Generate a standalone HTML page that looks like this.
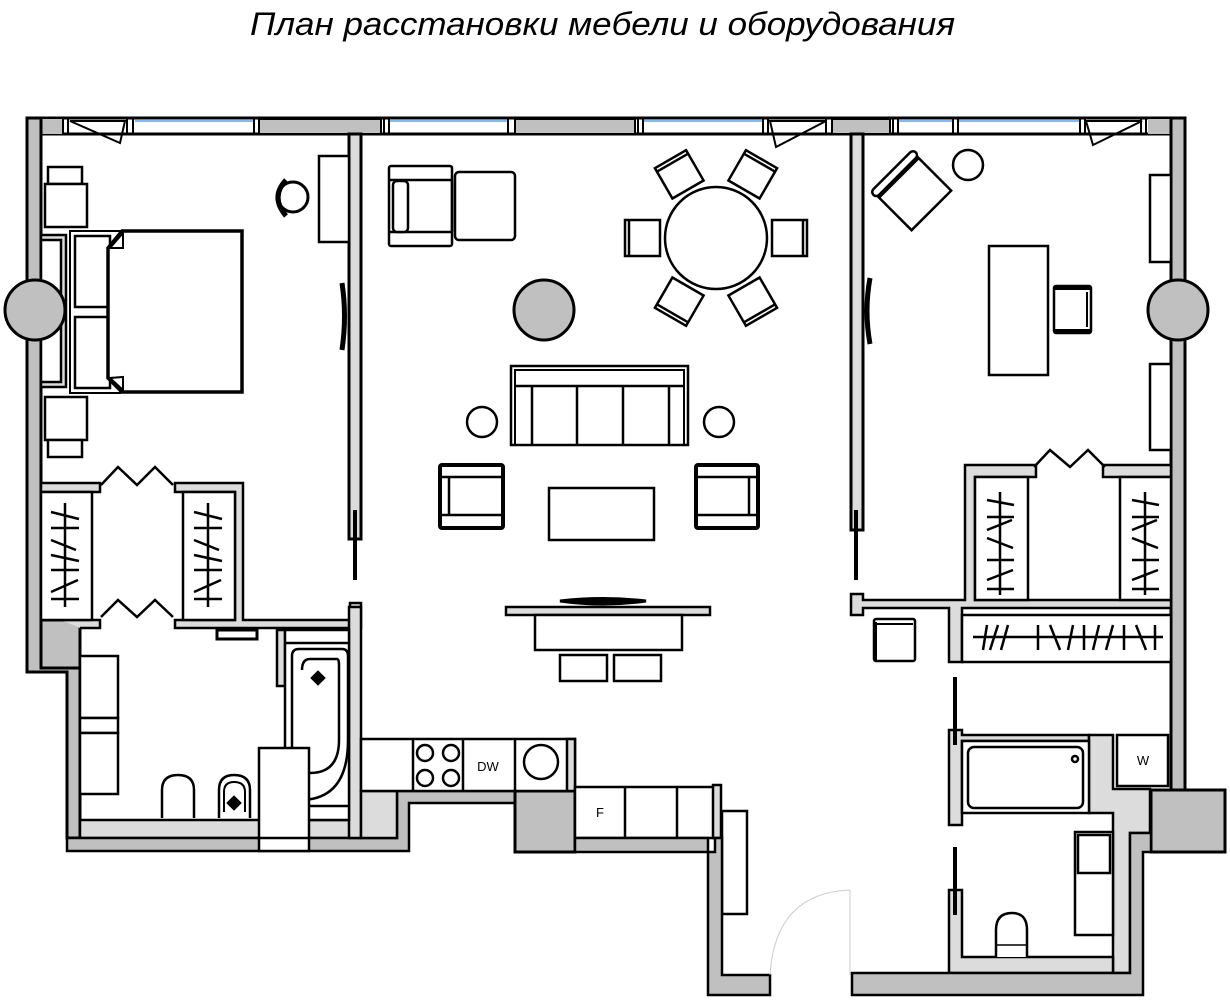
<!DOCTYPE html>
<html><head><meta charset="utf-8"><style>
html,body{margin:0;padding:0;background:#fff;}
svg{display:block;}
</style></head><body>
<svg width="1230" height="1000" viewBox="0 0 1230 1000" xmlns="http://www.w3.org/2000/svg" font-family="Liberation Sans, sans-serif">
<text x="250" y="35" font-size="32" font-style="italic" textLength="705" lengthAdjust="spacingAndGlyphs" fill="#000">План расстановки мебели и оборудования</text>

<g stroke="#000" stroke-width="3" stroke-linejoin="miter">
<!-- top wall -->
<rect x="27" y="118" width="1158" height="16" fill="#fff"/>
<rect x="41" y="119" width="22" height="15" fill="#c0c0c0" stroke="none"/>
<rect x="259" y="119" width="122" height="15" fill="#c0c0c0" stroke-width="2"/>
<rect x="515" y="119" width="120" height="15" fill="#c0c0c0" stroke-width="2"/>
<rect x="832" y="119" width="58" height="15" fill="#c0c0c0" stroke-width="2"/>
<rect x="1148" y="119" width="22" height="15" fill="#c0c0c0" stroke="none"/>
<g stroke-width="2">
<line x1="63" y1="118" x2="63" y2="134"/><line x1="68" y1="118" x2="68" y2="134"/>
<line x1="127" y1="118" x2="127" y2="134"/><line x1="133" y1="118" x2="133" y2="134"/>
<line x1="254" y1="118" x2="254" y2="134"/><line x1="384" y1="118" x2="384" y2="134"/><line x1="389" y1="118" x2="389" y2="134"/>
<line x1="508" y1="118" x2="508" y2="134"/><line x1="638" y1="118" x2="638" y2="134"/><line x1="643" y1="118" x2="643" y2="134"/>
<line x1="763" y1="118" x2="763" y2="134"/><line x1="768" y1="118" x2="768" y2="134"/>
<line x1="826" y1="118" x2="826" y2="134"/><line x1="893" y1="118" x2="893" y2="134"/><line x1="898" y1="118" x2="898" y2="134"/>
<line x1="953" y1="118" x2="953" y2="134"/><line x1="958" y1="118" x2="958" y2="134"/>
<line x1="1080" y1="118" x2="1080" y2="134"/><line x1="1085" y1="118" x2="1085" y2="134"/>
<line x1="1141" y1="118" x2="1141" y2="134"/><line x1="1146" y1="118" x2="1146" y2="134"/>
</g>
<g stroke="#4aa8ff" stroke-width="1.5">
<line x1="135" y1="121" x2="253" y2="121"/><line x1="390" y1="121" x2="507" y2="121"/>
<line x1="644" y1="121" x2="762" y2="121"/><line x1="899" y1="121" x2="952" y2="121"/><line x1="959" y1="121" x2="1079" y2="121"/>
</g>
<g stroke-width="2" fill="none">
<path d="M70 121 L125 121 L120 143 Z"/>
<path d="M770 121 L826 121 L776 147 Z"/>
<path d="M1086 121 L1142 121 L1093 145 Z"/>
</g>

<path d="M27 118 L41 118 L41 620 L80 620 L80 838 L67 838 L67 672 L27 672 Z" fill="#c0c0c0"/>
<rect x="41" y="620" width="39" height="48" fill="#c0c0c0"/>
<rect x="1171" y="118" width="14" height="672" fill="#c0c0c0"/>
<rect x="1151" y="790" width="74" height="62" fill="#c0c0c0"/>

<rect x="349" y="134" width="12" height="405" fill="#dcdcdc"/>
<rect x="851" y="134" width="12" height="396" fill="#dcdcdc"/>
<line x1="355" y1="510" x2="355" y2="580" stroke-width="4"/>
<line x1="856" y1="510" x2="856" y2="580" stroke-width="4"/>
<path d="M342 283 Q347 316 342 350" stroke-width="5" fill="none"/>
<path d="M870 278 Q864 311 870 344" stroke-width="5" fill="none"/>

<g stroke-width="2.5" fill="#fff">
<rect x="48" y="167" width="34" height="17"/><rect x="45" y="184" width="42" height="43"/>
<rect x="45" y="397" width="42" height="43"/><rect x="48" y="440" width="34" height="17"/>
<rect x="41" y="235" width="25" height="152" fill="#dcdcdc"/><rect x="41" y="240" width="20" height="142"/>
<rect x="70" y="231" width="50" height="162" stroke-width="2"/>
<rect x="75" y="236" width="35" height="71"/><rect x="75" y="317" width="35" height="71"/>
<path d="M108 248 L108 378 L122 392 L242 392 L242 231 L122 231 Z" stroke-width="3.5"/>
<path d="M110 248 L123 233 L123 248 Z M110 378 L123 390 L123 377 Z" stroke-width="2"/>
<rect x="319" y="156" width="30" height="86"/>
</g>
<circle cx="35" cy="310" r="30" fill="#c0c0c0" stroke-width="3"/>
<circle cx="293" cy="197" r="15" fill="none" stroke-width="3"/>
<path d="M286 180 Q270 197 286 216" stroke-width="5" fill="none"/>

<path d="M41 483 L100 483 L100 492 L41 492 Z M175 483 L243 483 L243 620 L350 620 L350 603 L361 603 L361 628 L175 628 L175 620 L235 620 L235 492 L175 492 Z" fill="#dcdcdc" stroke-width="2.5"/>
<path d="M61 620 L100 620 L100 628 L80 628" fill="#dcdcdc" stroke-width="2.5"/>
<rect x="41" y="492" width="51" height="128" fill="#fff" stroke-width="2.5"/>
<rect x="183" y="492" width="52" height="128" fill="#fff" stroke-width="2.5"/>
<path d="M101 485 L118 467 L137 485 L155 467 L173 485" fill="none" stroke-width="2.5"/>
<path d="M101 617 L118 600 L137 617 L155 600 L173 617" fill="none" stroke-width="2.5"/>
<g stroke-width="2.5">
<line x1="65" y1="503" x2="65" y2="607"/><line x1="51" y1="512" x2="79" y2="519"/><line x1="51" y1="528" x2="79" y2="528"/><line x1="51" y1="540" x2="76" y2="550"/><line x1="51" y1="555" x2="79" y2="561"/><line x1="51" y1="570" x2="79" y2="570"/><line x1="51" y1="592" x2="78" y2="580"/><line x1="51" y1="599" x2="79" y2="599"/>
<line x1="208" y1="503" x2="208" y2="607"/><line x1="194" y1="512" x2="222" y2="519"/><line x1="194" y1="528" x2="222" y2="528"/><line x1="194" y1="540" x2="219" y2="550"/><line x1="194" y1="555" x2="222" y2="561"/><line x1="194" y1="570" x2="222" y2="570"/><line x1="194" y1="592" x2="221" y2="580"/><line x1="194" y1="599" x2="222" y2="599"/>
</g>

<rect x="217" y="630" width="40" height="9" fill="#fff" stroke-width="3"/>
<rect x="277" y="630" width="8" height="56" fill="#dcdcdc" stroke-width="2.5"/>
<path d="M80 820 L361 820 L361 838 L80 838 Z" fill="#dcdcdc" stroke-width="2.5"/>
<path d="M67 838 L397 838 L397 791 L575 791 L575 852 L515 852 L515 803 L409 803 L409 851 L67 851 Z" fill="#c0c0c0" stroke-width="2.5"/>
<rect x="515" y="791" width="60" height="61" fill="#c0c0c0"/>
<rect x="349" y="607" width="12" height="231" fill="#dcdcdc" stroke-width="2.5"/>
<rect x="361" y="791" width="36" height="47" fill="#dcdcdc" stroke-width="2.5"/>
<g fill="#fff" stroke-width="2.5">
<rect x="285" y="630" width="64" height="190"/>
<line x1="285" y1="643" x2="349" y2="643"/><line x1="285" y1="806" x2="349" y2="806"/>
<path d="M292 790 L292 656 Q292 649 299 649 L342 649 Q348 649 348 656 L348 740 Q348 800 300 800"/>
<path d="M302 670 Q302 659 310 659 L337 659 Q339 659 339 665 L339 740 Q339 773 310 773"/>
<rect x="80" y="656" width="38" height="62"/><rect x="80" y="718" width="38" height="15"/><rect x="80" y="733" width="38" height="61"/>
<rect x="259" y="748" width="50" height="103"/><line x1="259" y1="838" x2="309" y2="838"/>
<path d="M162 818 L162 790 Q162 775 178 775 Q194 775 194 790 L194 818"/>
<path d="M219 818 L219 790 Q219 775 234 775 Q250 775 250 790 L250 818"/>
<path d="M224 812 L224 792 Q224 782 234 782 Q245 782 245 792 L245 812" fill="none" stroke-width="2"/>
</g>
<rect x="230" y="799" width="8" height="8" transform="rotate(45 234 803)" fill="#000"/>
<rect x="314" y="674" width="8" height="8" transform="rotate(45 318 678)" fill="#000"/>

<g fill="#fff" stroke-width="2.5">
<rect x="361" y="739" width="214" height="52"/>
<line x1="413" y1="739" x2="413" y2="791"/><line x1="463" y1="739" x2="463" y2="791"/><line x1="515" y1="739" x2="515" y2="791"/>
<rect x="567" y="739" width="8" height="52" fill="#dcdcdc"/>
<circle cx="425" cy="753" r="8"/><circle cx="451" cy="753" r="8"/><circle cx="425" cy="778" r="8"/><circle cx="451" cy="778" r="8"/>
<circle cx="541" cy="762" r="17"/>
<rect x="575" y="787" width="140" height="51"/>
<line x1="625" y1="787" x2="625" y2="838"/><line x1="677" y1="787" x2="677" y2="838"/>
<rect x="713" y="785" width="8" height="53" fill="#dcdcdc"/>
<rect x="722" y="811" width="25" height="103"/>
</g>
<text x="488" y="771" font-size="13" text-anchor="middle" stroke="none" fill="#000">DW</text>
<text x="600" y="817" font-size="13" text-anchor="middle" stroke="none" fill="#000">F</text>
<path d="M575 838 L708 838 L708 995 L770 995 L770 975 L722 975 L722 838 L715 838 L715 852 L575 852 Z" fill="#c0c0c0" stroke-width="2.5"/>
<path d="M850 890 L850 975 M770 975 Q775 893 850 890" stroke="#ccc" stroke-width="1" fill="none"/>

<g fill="#fff" stroke-width="2.5">
<rect x="389" y="166" width="63" height="80" rx="2"/>
<line x1="389" y1="180" x2="452" y2="180"/><line x1="389" y1="232" x2="452" y2="232"/><line x1="452" y1="180" x2="452" y2="232"/>
<rect x="393" y="181" width="15" height="51" rx="4"/>
<rect x="455" y="172" width="60" height="68" rx="4"/>
<circle cx="716" cy="238" r="51"/>
<rect x="511" y="366" width="177" height="79"/>
<rect x="515" y="370" width="169" height="75" fill="none" stroke-width="2"/>
<line x1="515" y1="386" x2="684" y2="386"/>
<line x1="532" y1="386" x2="532" y2="445"/><line x1="577" y1="386" x2="577" y2="445"/><line x1="623" y1="386" x2="623" y2="445"/><line x1="669" y1="386" x2="669" y2="445"/>
<circle cx="482" cy="422" r="15"/><circle cx="719" cy="422" r="15"/>
<rect x="440" y="465" width="63" height="63" rx="2" stroke-width="4"/>
<line x1="442" y1="477" x2="501" y2="477"/><line x1="442" y1="515" x2="501" y2="515"/><line x1="449" y1="477" x2="449" y2="515"/>
<rect x="696" y="465" width="62" height="63" rx="2" stroke-width="4"/>
<line x1="698" y1="477" x2="756" y2="477"/><line x1="698" y1="515" x2="756" y2="515"/><line x1="749" y1="477" x2="749" y2="515"/>
<rect x="549" y="488" width="105" height="52"/>
<rect x="506" y="607" width="204" height="8" fill="#dcdcdc"/>
<rect x="535" y="615" width="147" height="35"/>
<rect x="560" y="655" width="47" height="26"/><rect x="614" y="655" width="47" height="26"/>
</g>
<path d="M560 601 Q603 596 646 601 Q603 607 560 601 Z" fill="#000" stroke-width="3"/>
<circle cx="544" cy="310" r="30" fill="#c0c0c0" stroke-width="3"/>
<g fill="#fff" stroke-width="2.5">
<g transform="translate(716 238) rotate(180) translate(74 0)"><rect x="-18" y="-18" width="35" height="36"/><line x1="13" y1="-18" x2="13" y2="18"/></g>
<g transform="translate(716 238) rotate(0) translate(74 0)"><rect x="-18" y="-18" width="35" height="36"/><line x1="13" y1="-18" x2="13" y2="18"/></g>
<g transform="translate(716 238) rotate(-120) translate(74 0)"><rect x="-18" y="-18" width="35" height="36"/><line x1="13" y1="-18" x2="13" y2="18"/></g>
<g transform="translate(716 238) rotate(-60) translate(74 0)"><rect x="-18" y="-18" width="35" height="36"/><line x1="13" y1="-18" x2="13" y2="18"/></g>
<g transform="translate(716 238) rotate(120) translate(74 0)"><rect x="-18" y="-18" width="35" height="36"/><line x1="13" y1="-18" x2="13" y2="18"/></g>
<g transform="translate(716 238) rotate(60) translate(74 0)"><rect x="-18" y="-18" width="35" height="36"/><line x1="13" y1="-18" x2="13" y2="18"/></g>
</g>

<g fill="#fff" stroke-width="2.5">
<g transform="translate(913 192) rotate(-45)"><rect x="-28" y="-26" width="56" height="52"/><line x1="-28" y1="-20" x2="28" y2="-20"/><rect x="-30" y="-30" width="60" height="8" rx="4"/></g>
<circle cx="968" cy="165" r="15"/>
<rect x="989" y="246" width="59" height="129"/>
<rect x="1054" y="286" width="37" height="47" rx="2"/>
<line x1="1055" y1="288" x2="1090" y2="288" stroke-width="4"/><line x1="1055" y1="331" x2="1090" y2="331" stroke-width="4"/>
<line x1="1087" y1="292" x2="1087" y2="327" stroke-width="2"/>
<rect x="1150" y="175" width="21" height="87"/>
<rect x="1150" y="364" width="21" height="86"/>
</g>
<circle cx="1178" cy="310" r="30" fill="#c0c0c0" stroke-width="3"/>
<path d="M965 465 L1036 465 L1036 477 L975 477 L975 600 L1171 600 L1171 608 L962 608 L962 662 L949 662 L949 608 L863 608 L863 615 L851 615 L851 594 L863 594 L863 600 L965 600 Z" fill="#dcdcdc" stroke-width="2.5"/>
<rect x="1103" y="465" width="68" height="12" fill="#dcdcdc" stroke-width="2.5"/>
<rect x="975" y="477" width="53" height="123" fill="#fff" stroke-width="2.5"/>
<rect x="1120" y="477" width="51" height="123" fill="#fff" stroke-width="2.5"/>
<path d="M1034 467 L1050 450 L1070 467 L1088 450 L1105 467" fill="none" stroke-width="2.5"/>
<rect x="962" y="615" width="209" height="47" fill="#fff" stroke-width="2.5"/>
<g stroke-width="2.5">
<line x1="1000" y1="492" x2="1000" y2="595"/><line x1="987" y1="500" x2="1014" y2="505"/><line x1="987" y1="517" x2="1014" y2="517"/><line x1="987" y1="530" x2="1012" y2="520"/><line x1="987" y1="538" x2="1013" y2="548"/><line x1="987" y1="560" x2="1014" y2="560"/><line x1="987" y1="580" x2="1013" y2="570"/><line x1="987" y1="589" x2="1014" y2="589"/>
<line x1="1145" y1="492" x2="1145" y2="595"/><line x1="1132" y1="500" x2="1159" y2="505"/><line x1="1132" y1="517" x2="1159" y2="517"/><line x1="1132" y1="530" x2="1157" y2="520"/><line x1="1132" y1="538" x2="1158" y2="548"/><line x1="1132" y1="560" x2="1159" y2="560"/><line x1="1132" y1="580" x2="1158" y2="570"/><line x1="1132" y1="589" x2="1159" y2="589"/>
<line x1="973" y1="637" x2="1163" y2="637"/>
<line x1="987" y1="625" x2="983" y2="650"/><line x1="998" y1="625" x2="990" y2="650"/><line x1="1008" y1="625" x2="1001" y2="650"/><line x1="1038" y1="625" x2="1038" y2="650"/><line x1="1050" y1="625" x2="1060" y2="650"/><line x1="1073" y1="625" x2="1068" y2="650"/><line x1="1084" y1="625" x2="1084" y2="650"/><line x1="1099" y1="625" x2="1093" y2="650"/><line x1="1113" y1="625" x2="1106" y2="650"/><line x1="1124" y1="625" x2="1124" y2="650"/><line x1="1136" y1="625" x2="1146" y2="650"/><line x1="1155" y1="625" x2="1155" y2="650"/>
</g>
<rect x="874" y="619" width="41" height="42" rx="2" fill="#fff" stroke-width="2.5"/>
<line x1="876" y1="624" x2="913" y2="624" stroke-width="2"/><line x1="875" y1="622" x2="875" y2="660" stroke-width="4"/>

<path d="M949 730 L962 730 L962 735 L1089 735 L1089 741 L962 741 L962 825 L949 825 Z" fill="#dcdcdc" stroke-width="2.5"/>
<path d="M1089 735 L1113 735 L1113 789 L1150 789 L1150 833 L1130 833 L1130 973 L1113 973 L1113 813 L1089 813 Z" fill="#dcdcdc" stroke-width="2.5"/>
<path d="M949 890 L962 890 L962 957 L1113 957 L1113 973 L949 973 Z" fill="#dcdcdc" stroke-width="2.5"/>
<path d="M852 973 L1130 973 L1130 833 L1151 833 L1151 852 L1143 852 L1143 995 L852 995 Z" fill="#c0c0c0" stroke-width="2.5"/>
<line x1="955" y1="677" x2="955" y2="745" stroke-width="4"/>
<line x1="955" y1="847" x2="955" y2="915" stroke-width="4"/>
<g fill="#fff" stroke-width="2.5">
<rect x="962" y="741" width="127" height="72"/>
<rect x="968" y="747" width="115" height="61" rx="6"/>
<circle cx="1075" cy="759" r="3"/>
<rect x="1117" y="735" width="51" height="51"/>
<rect x="1075" y="832" width="38" height="103"/><rect x="1078" y="835" width="32" height="38"/>
<path d="M996 957 L996 930 Q996 913 1012 913 Q1027 913 1027 930 L1027 957"/>
<line x1="996" y1="945" x2="1027" y2="945" stroke-width="1.5"/>
</g>
<text x="1143" y="765" font-size="13" text-anchor="middle" stroke="none" fill="#000">W</text>
</g>
</svg>
</body></html>
